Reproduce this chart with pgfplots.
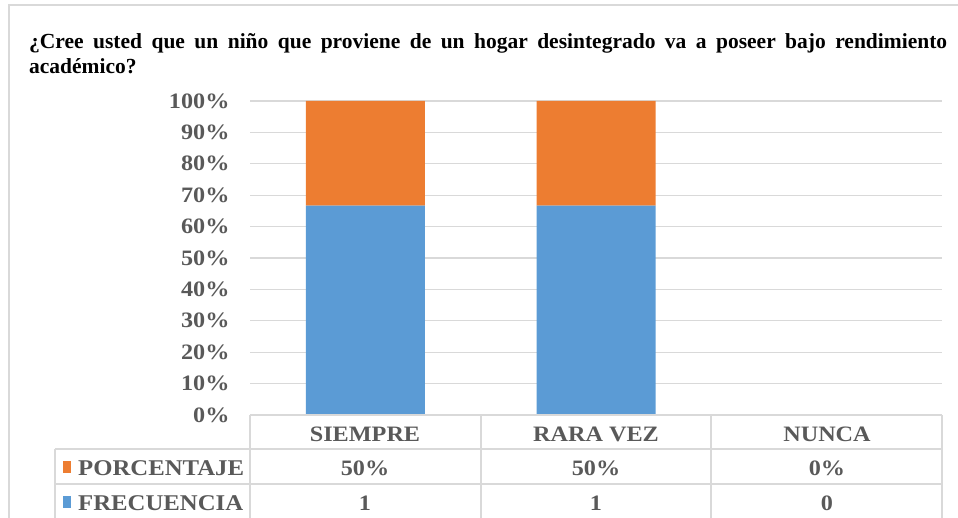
\documentclass[border=0pt]{standalone}
\usepackage{fontspec}
\setmainfont{Liberation Serif}
\newfontfamily\widefont[FakeStretch=1.1]{Liberation Serif}
\usepackage{pgfplots}
\pgfplotsset{compat=1.18}
\definecolor{cblue}{HTML}{5B9BD5}
\definecolor{corange}{HTML}{ED7D31}
\definecolor{cgrid}{HTML}{D9D9D9}
\definecolor{ctext}{HTML}{595959}
\begin{document}
\begin{tikzpicture}[x=1pt,y=1pt]
\useasboundingbox (0,0) rectangle (958,-518);
\draw[cgrid, line width=1.5pt] (9,-520) -- (9,-5) -- (960,-5);
\node[anchor=north west, text width=918pt, align=justify, inner sep=0pt,
      font=\fontsize{21.5}{25.5}\selectfont\bfseries] at (29,-33)
  {¿Cree usted que un niño que proviene de un hogar desintegrado va a poseer bajo rendimiento académico?};
\begin{axis}[
  at={(250pt,-415pt)}, anchor=south west,
  scale only axis, width=692pt, height=314pt,
  xmin=-0.5, xmax=2.5, ymin=0, ymax=100,
  ybar stacked, bar width=119pt,
  axis line style={draw=none},
  ymajorgrids, grid style={cgrid, line width=1.2pt},
  ytick={0,10,...,100},
  yticklabels={0\%,10\%,20\%,30\%,40\%,50\%,60\%,70\%,80\%,90\%,100\%},
  xtick=\empty, major tick length=0pt,
  yticklabel style={font=\widefont\fontsize{22}{22}\selectfont\bfseries, text=ctext, xshift=-17pt},
  clip=false,
]
\addplot[fill=cblue, draw=none] coordinates {(0,66.67) (1,66.67) (2,0)};
\addplot[fill=corange, draw=none] coordinates {(0,33.33) (1,33.33) (2,0)};
\end{axis}
% data table
\draw[cgrid, line width=1.2pt] (250,-415) -- (942,-415);
\draw[cgrid, line width=1.2pt] (55,-449) -- (942,-449);
\draw[cgrid, line width=1.2pt] (55,-484) -- (942,-484);
\foreach \xx in {250,481,711,942} \draw[cgrid, line width=1.2pt] (\xx,-415) -- (\xx,-520);
\draw[cgrid, line width=1.2pt] (55,-449) -- (55,-520);
\begin{scope}[every node/.style={font=\widefont\fontsize{22}{22}\selectfont\bfseries, text=ctext, inner sep=0pt}]
\node[anchor=base] at (365,-441) {SIEMPRE};
\node[anchor=base] at (596,-441) {RARA VEZ};
\node[anchor=base] at (827,-441) {NUNCA};
\node[anchor=base] at (365,-475) {50\%};
\node[anchor=base] at (596,-475) {50\%};
\node[anchor=base] at (827,-475) {0\%};
\node[anchor=base] at (365,-510) {1};
\node[anchor=base] at (596,-510) {1};
\node[anchor=base] at (827,-510) {0};
\node[anchor=base west] at (78,-475) {\fontsize{22.5}{22.5}\selectfont PORCENTAJE};
\node[anchor=base west] at (78,-510) {\fontsize{22.5}{22.5}\selectfont FRECUENCIA};
\end{scope}
\fill[corange] (63,-461) rectangle (71,-473);
\fill[cblue] (63,-496) rectangle (71,-508);
\end{tikzpicture}
\end{document}
